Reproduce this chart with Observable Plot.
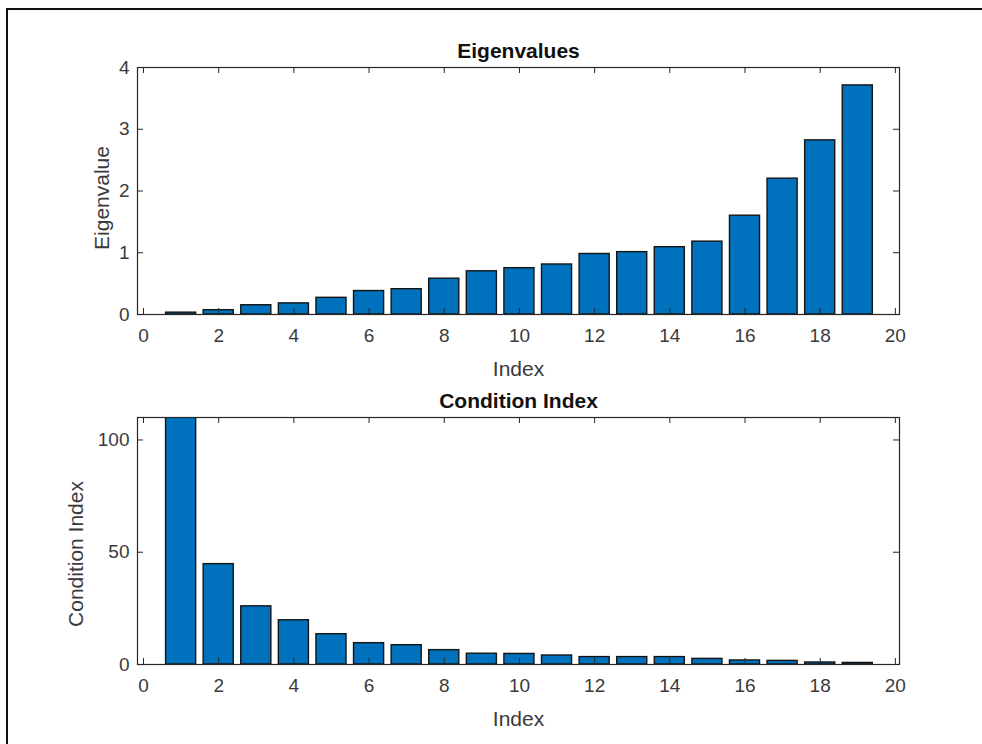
<!DOCTYPE html>
<html>
<head>
<meta charset="utf-8">
<script src="https://cdn.jsdelivr.net/npm/d3@7"></script>
<script src="https://cdn.jsdelivr.net/npm/@observablehq/plot@0.6"></script>
<style>
  html, body { margin: 0; padding: 0; background: #fff; }
  #wrap { position: relative; width: 982px; height: 744px; overflow: hidden; background: #fff; }
  #border { position: absolute; left: 6px; top: 8px; width: 1000px; height: 800px;
            border-top: 2px solid #111; border-left: 2px solid #111; }
  .panel { position: absolute; left: 0; }
  .panel svg { display: block; }
</style>
</head>
<body>
<div id="wrap">
  <div id="border"></div>
  <div id="top" class="panel" style="top:0"></div>
  <div id="bot" class="panel" style="top:372px"></div>
</div>
<script>
// ---- data ----
const index = [1,2,3,4,5,6,7,8,9,10,11,12,13,14,15,16,17,18,19];
const eigenvalues = [0.03,0.07,0.15,0.18,0.27,0.38,0.41,0.58,0.70,0.75,0.81,0.98,1.01,1.09,1.18,1.60,2.20,2.82,3.71];
const conditionIndex = [110,44.7,25.9,19.7,13.5,9.5,8.6,6.4,4.8,4.7,4.0,3.3,3.3,3.3,2.5,1.8,1.6,0.9,0.7];
const xTicks = [0,2,4,6,8,10,12,14,16,18,20];
const yTicksTop = [0,1,2,3,4];
const yTicksBot = [0,50,100];
const titles = ["Eigenvalues", "Condition Index"];
const yLabels = ["Eigenvalue", "Condition Index"];
const xLabel = "Index";

const barWidth = 0.8;
const font = "'Liberation Sans', Arial, Helvetica, sans-serif";
const axisColor = "#262626";
const textColor = "#3a3a3a";

function panel({values, yDomain, yTicks, title, yLabel, marginTop, marginBottom, yLabelDx, yLabelDy}) {
  const data = index.map((i, k) => ({i, v: values[k]}));
  const H = 372, W = 982, mL = 137, mR = 83;
  const fh = H - marginTop - marginBottom;
  const fw = W - mL - mR;
  const tick = 6;
  return Plot.plot({
    width: W, height: H,
    marginLeft: mL, marginRight: mR, marginTop, marginBottom,
    style: {fontFamily: font, fontSize: "19px", color: textColor, background: "transparent", overflow: "visible"},
    x: {domain: [-0.16, 20.11], ticks: xTicks, axis: null},
    y: {domain: yDomain, ticks: yTicks, axis: null},
    marks: [
      Plot.rectY(data, {
        x1: d => d.i - barWidth / 2, x2: d => d.i + barWidth / 2, y: "v",
        fill: "#0072BD", stroke: "#141414", strokeWidth: 1.4, clip: true
      }),
      // inward ticks bottom/top
      Plot.ruleX(xTicks, {x: d => d, insetTop: fh - tick, stroke: axisColor, strokeWidth: 1}),
      Plot.ruleX(xTicks, {x: d => d, insetBottom: fh - tick, stroke: axisColor, strokeWidth: 1}),
      // inward ticks left/right
      Plot.ruleY(yTicks, {y: d => d, insetRight: fw - tick, stroke: axisColor, strokeWidth: 1}),
      Plot.ruleY(yTicks, {y: d => d, insetLeft: fw - tick, stroke: axisColor, strokeWidth: 1}),
      Plot.frame({stroke: axisColor, strokeWidth: 1.2}),
      // tick labels
      Plot.axisX({ticks: xTicks, tickSize: 0, tickPadding: 14, tickFormat: d => String(d), fill: textColor, fontSize: 19, label: null}),
      Plot.axisY({ticks: yTicks, tickSize: 0, tickPadding: 8, tickFormat: d => String(d), fill: textColor, fontSize: 19, label: null}),
      // title
      Plot.text([title], {frameAnchor: "top", dy: -10, lineAnchor: "bottom", text: d => d,
        fontWeight: "bold", fontSize: 21, fill: "#111"}),
      // x label
      Plot.text([xLabel], {frameAnchor: "bottom", dy: 61, lineAnchor: "bottom", text: d => d,
        fontSize: 21, fill: textColor}),
      // y label
      Plot.text([yLabel], {frameAnchor: "left", dx: yLabelDx, dy: yLabelDy, rotate: -90, textAnchor: "middle",
        lineAnchor: "bottom", text: d => d, fontSize: 21, fill: textColor})
    ]
  });
}

document.getElementById("top").append(panel({
  values: eigenvalues, yDomain: [0, 4], yTicks: yTicksTop,
  title: titles[0], yLabel: yLabels[0], marginTop: 67, marginBottom: 58, yLabelDx: -29, yLabelDy: 7
}));
document.getElementById("bot").append(panel({
  values: conditionIndex, yDomain: [0, 110], yTicks: yTicksBot,
  title: titles[1], yLabel: yLabels[1], marginTop: 45, marginBottom: 80, yLabelDx: -55, yLabelDy: 13
}));
</script>
</body>
</html>
